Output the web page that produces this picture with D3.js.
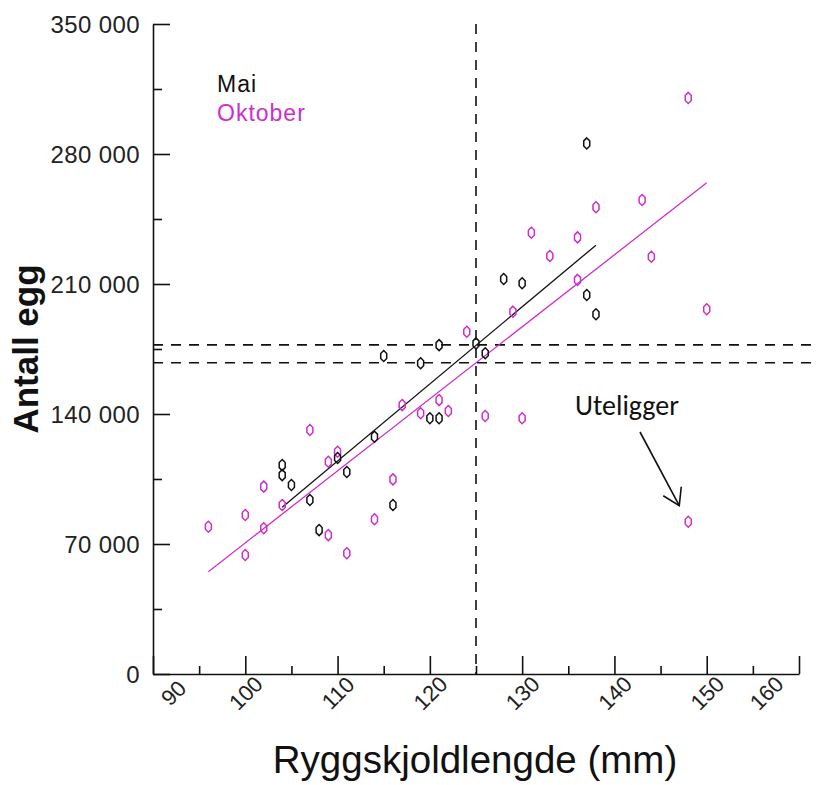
<!DOCTYPE html>
<html>
<head>
<meta charset="utf-8">
<script src="https://cdn.jsdelivr.net/npm/d3@7"></script>
<style>
  html, body { margin: 0; padding: 0; background: #fff; }
  svg { display: block; }
</style>
</head>
<body>
<svg id="chart" width="816" height="785"></svg>
<script>
// Egg count vs carapace length, May and October samples
const maiLength = [104, 104, 105, 107, 108, 110, 111, 114, 116, 115, 119, 120, 121, 121, 125, 126, 128, 130, 137, 137, 138];
const maiEggs   = [112500, 107100, 101800, 93700, 77500, 116300, 108800, 127800, 91000, 171200, 167300, 137700, 137700, 177100, 178000, 172700, 212700, 210400, 285700, 204100, 193700];

const oktLength = [96, 100, 100, 102, 102, 104, 107, 109, 111, 109, 110, 114, 116, 117, 119, 121, 122, 124, 126, 130, 129, 131, 133, 136, 136, 138, 143, 144, 150, 148, 148];
const oktEggs   = [79300, 85600, 64100, 100900, 78500, 91000, 131400, 74800, 65000, 114300, 119700, 83300, 104800, 144800, 140400, 147500, 141600, 184300, 138900, 137700, 195100, 237600, 225100, 235100, 212200, 251300, 255200, 224700, 196400, 310200, 82000];

// Fitted trend lines (end points)
const maiFitLength = [104, 138];
const maiFitEggs   = [89800, 230900];
const oktFitLength = [96, 150];
const oktFitEggs   = [55100, 264500];

// Reference lines: mean length and the two mean egg counts
const refLength = [125];
const refEggs   = [177200, 167600];

const xTicks = [90, 100, 110, 120, 130, 140, 150, 160];
const xMinorTicks = [95, 105, 115, 125, 135, 145, 155];
const yTicks = [0, 70000, 140000, 210000, 280000, 350000];
const yMinorTicks = [35000, 105000, 175000, 245000, 315000];

const seriesNames = ["Mai", "Oktober"];
const outlierLabel = "Uteligger";
const xTitle = "Ryggskjoldlengde (mm)";
const yTitle = "Antall egg";

const BLACK = "#111111";
const MAGENTA = "#cc2fcc";

const svg = d3.select("#chart");
const x = d3.scaleLinear().domain([90, 160]).range([153, 799]);
const y = d3.scaleLinear().domain([0, 350000]).range([674, 24]);

const fmt = v => d3.format(",")(v).replace(/,/g, " ");
const tickFont = "Liberation Sans, Arial, sans-serif";

// Y axis
const yAxis = svg.append("g").attr("transform", `translate(${x(90)},0)`)
  .call(d3.axisLeft(y).tickValues(yTicks).tickSize(-17).tickSizeOuter(0).tickPadding(13).tickFormat(fmt));
yAxis.select(".domain").attr("stroke", BLACK).attr("stroke-width", 1.6);
yAxis.selectAll(".tick line").attr("stroke", BLACK).attr("stroke-width", 1.6);
yAxis.selectAll("text").attr("font-family", tickFont).attr("font-size", 24)
  .attr("letter-spacing", 0.4).attr("fill", "#222").attr("dy", "0.35em");
const yMinor = svg.append("g").attr("transform", `translate(${x(90)},0)`)
  .call(d3.axisLeft(y).tickValues(yMinorTicks).tickSize(-9).tickSizeOuter(0).tickFormat(""));
yMinor.select(".domain").remove();
yMinor.selectAll(".tick line").attr("stroke", BLACK).attr("stroke-width", 1.6);

// X axis; the end labels are nudged inward so they clear the corner and the edge
const edgeShift = d => d === 90 ? 20 : d === 160 ? -33 : 0;
const xAxis = svg.append("g").attr("transform", `translate(0,${y(0)})`)
  .call(d3.axisBottom(x).tickValues(xTicks).tickSize(-18).tickSizeOuter(0).tickFormat(d3.format("d")));
xAxis.select(".domain").attr("stroke", BLACK).attr("stroke-width", 1.6);
xAxis.selectAll(".tick line").attr("stroke", BLACK).attr("stroke-width", 1.6);
xAxis.selectAll("text")
  .attr("font-family", tickFont).attr("font-size", 22).attr("fill", "#222")
  .attr("y", null).attr("dy", "0.35em").attr("text-anchor", "middle")
  .attr("transform", d => `translate(${edgeShift(d)},19) rotate(-45)`);
const xMinor = svg.append("g").attr("transform", `translate(0,${y(0)})`)
  .call(d3.axisBottom(x).tickValues(xMinorTicks).tickSize(-8).tickSizeOuter(0).tickFormat(""));
xMinor.select(".domain").remove();
xMinor.selectAll(".tick line").attr("stroke", BLACK).attr("stroke-width", 1.6);

// Dashed reference lines
const dash = "10,8";
svg.append("g").selectAll("line.vref").data(refLength).join("line")
  .attr("x1", d => x(d)).attr("x2", d => x(d)).attr("y1", y(350000)).attr("y2", y(0))
  .attr("stroke", BLACK).attr("stroke-width", 1.6).attr("stroke-dasharray", dash);
svg.append("g").selectAll("line.href").data(refEggs).join("line")
  .attr("x1", x(90)).attr("x2", 816).attr("y1", d => y(d)).attr("y2", d => y(d))
  .attr("stroke", BLACK).attr("stroke-width", 1.6).attr("stroke-dasharray", dash);

// Trend lines
const line = d3.line().x(d => x(d[0])).y(d => y(d[1]));
svg.append("path").datum(d3.zip(oktFitLength, oktFitEggs)).attr("d", line)
  .attr("fill", "none").attr("stroke", MAGENTA).attr("stroke-width", 1.3);
svg.append("path").datum(d3.zip(maiFitLength, maiFitEggs)).attr("d", line)
  .attr("fill", "none").attr("stroke", BLACK).attr("stroke-width", 1.3);

// Markers: small elongated diamonds
const marker = "M0,-5.5L3,-2.5L3,2.5L0,5.5L-3,2.5L-3,-2.5Z";
function drawPoints(xs, ys, color) {
  svg.append("g").selectAll("path").data(d3.zip(xs, ys)).join("path")
    .attr("d", marker)
    .attr("transform", d => `translate(${x(d[0])},${y(d[1])})`)
    .attr("fill", "none").attr("stroke", color).attr("stroke-width", 1.5);
}
drawPoints(oktLength, oktEggs, MAGENTA);
drawPoints(maiLength, maiEggs, BLACK);

// Legend
svg.append("text").attr("x", 217).attr("y", 92).text(seriesNames[0])
  .attr("font-family", tickFont).attr("font-size", 23).attr("letter-spacing", 1).attr("fill", BLACK);
svg.append("text").attr("x", 217).attr("y", 121).text(seriesNames[1])
  .attr("font-family", tickFont).attr("font-size", 23).attr("letter-spacing", 1).attr("fill", MAGENTA);

// Outlier annotation
const outIdx = oktEggs.indexOf(82000);
const ox = x(oktLength[outIdx]), oy = y(oktEggs[outIdx]);
svg.append("text").attr("x", 575).attr("y", 415).text(outlierLabel)
  .attr("font-family", "Carlito, Open Sans, Liberation Sans, sans-serif").attr("font-size", 28).attr("fill", BLACK);
const tipX = ox - 9, tipY = oy - 16;
svg.append("line").attr("x1", 640).attr("y1", 432).attr("x2", tipX).attr("y2", tipY)
  .attr("stroke", BLACK).attr("stroke-width", 1.6);
svg.append("path")
  .attr("d", `M${tipX - 16},${tipY - 10}L${tipX},${tipY}L${tipX + 2},${tipY - 19}`)
  .attr("fill", "none").attr("stroke", BLACK).attr("stroke-width", 1.6);

// Axis titles
svg.append("text").attr("x", 475).attr("y", 773).attr("text-anchor", "middle").text(xTitle)
  .attr("font-family", tickFont).attr("font-size", 38.5).attr("fill", BLACK);
svg.append("text").attr("transform", "translate(38,349) rotate(-90)").attr("text-anchor", "middle").text(yTitle)
  .attr("font-family", tickFont).attr("font-size", 35).attr("font-weight", "bold").attr("fill", BLACK);
</script>
</body>
</html>
